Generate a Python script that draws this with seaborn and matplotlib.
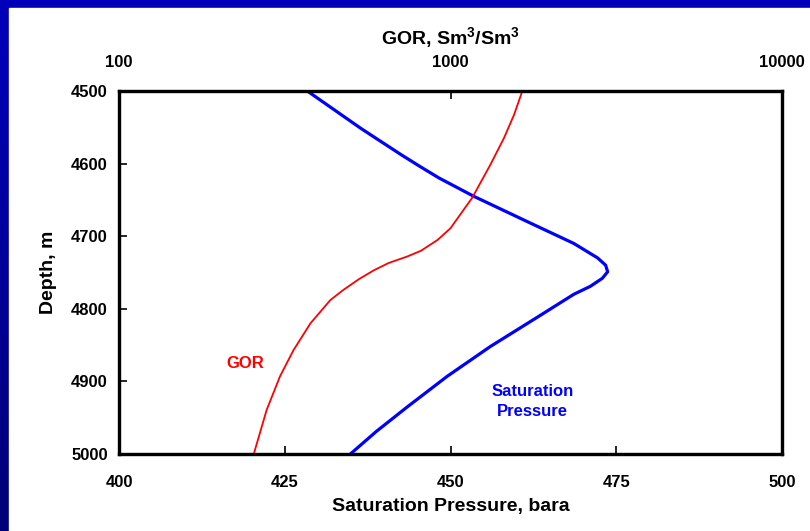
import numpy as np
import matplotlib
matplotlib.use("Agg")
import matplotlib.pyplot as plt
import matplotlib.ticker as mticker
from matplotlib.colors import LinearSegmentedColormap
import seaborn as sns

# Data
psat_depth = [4500, 4551, 4563, 4588, 4604, 4620, 4645, 4680, 4710, 4730, 4740, 4749, 4758, 4769, 4780,
              4811, 4852, 4893, 4935, 4969, 5000]
psat_bara = [428.4, 436.4, 438.4, 442.6, 445.4, 448.3, 453.5, 461.6, 468.6, 472.2, 473.4, 473.7, 472.9, 471.1, 468.6,
             463.2, 456.0, 449.5, 443.5, 438.8, 434.9]

gor_depth = [4500, 4533, 4565, 4601, 4647, 4689, 4705, 4720, 4728, 4737, 4747, 4759, 4774, 4788,
             4820, 4857, 4893, 4939, 5000]
gor_values = [1647, 1554, 1449, 1321, 1163, 1000, 915, 815, 740, 650, 587, 530, 475, 434,
              378, 336, 306, 279, 255]

p_ticks = [400, 425, 450, 475, 500]
d_ticks = [4500, 4600, 4700, 4800, 4900, 5000]
gor_ticks = [100, 1000, 10000]

sns.set_theme(style="white")
plt.rcParams['font.family'] = ['Liberation Sans', 'DejaVu Sans']
plt.rcParams['font.weight'] = 'bold'
plt.rcParams['mathtext.fontset'] = 'custom'
plt.rcParams['mathtext.rm'] = 'Liberation Sans:bold'
plt.rcParams['mathtext.bf'] = 'Liberation Sans:bold'
plt.rcParams['mathtext.it'] = 'Liberation Sans:bold'
plt.rcParams['mathtext.default'] = 'bf'
plt.rcParams['text.color'] = 'black'
plt.rcParams['axes.labelcolor'] = 'black'
plt.rcParams['lines.solid_joinstyle'] = 'round'

W, H = 810, 531
fig = plt.figure(figsize=(W / 100, H / 100), dpi=100)

# background: blue frame with gradient on the left
bg = fig.add_axes([0, 0, 1, 1], zorder=-10)
grad = np.linspace(0, 1, 256).reshape(-1, 1)
cmap = LinearSegmentedColormap.from_list("bg", ["#0000BB", "#000078"])
bg.imshow(grad, aspect='auto', cmap=cmap, extent=[0, 1, 0, 1], origin='upper')
bg.add_patch(plt.Rectangle((9 / W, 0), 1, 1 - 8 / H, color='white', transform=bg.transAxes))
bg.set_xlim(0, 1); bg.set_ylim(0, 1)
bg.axis('off')

left, right, top, bottom = 119, 782, 91, 454
ax = fig.add_axes([left / W, 1 - bottom / H, (right - left) / W, (bottom - top) / H])
ax.set_facecolor('white')

sns.lineplot(x=psat_bara, y=psat_depth, sort=False, estimator=None, color='#0000FF', linewidth=2.3, ax=ax)
ax.set_xlim(400, 500)
ax.set_ylim(5000, 4500)
ax.set_xticks(p_ticks)
ax.set_yticks(d_ticks)
ax.set_xlabel("Saturation Pressure, bara", fontsize=14, fontweight='bold', labelpad=6, color='black')
ax.set_ylabel("Depth, m", fontsize=14, fontweight='bold', labelpad=10, color='black')
ax.tick_params(axis='x', direction='in', length=6, width=1.2, pad=15, labelsize=12, colors='black', bottom=True)
ax.tick_params(axis='y', direction='in', length=6, width=1.2, pad=8, labelsize=12, colors='black', left=True)
for lab in ax.get_xticklabels() + ax.get_yticklabels():
    lab.set_fontweight('bold')

ax2 = ax.twiny()
sns.lineplot(x=gor_values, y=gor_depth, sort=False, estimator=None, color='#FF0000', linewidth=1.3, ax=ax2)
ax2.set_xscale('log')
ax2.set_xlim(100, 10000)
ax2.set_ylim(5000, 4500)
ax2.xaxis.set_major_locator(mticker.FixedLocator(gor_ticks))
ax2.xaxis.set_minor_locator(mticker.NullLocator())
ax2.xaxis.set_major_formatter(mticker.FixedFormatter([str(t) for t in gor_ticks]))
ax2.tick_params(axis='x', which='both', direction='in', length=6, width=1.2, pad=15, labelsize=12, colors='black', top=True)
for lab in ax2.get_xticklabels():
    lab.set_fontweight('bold')
ax2.set_xlabel("GOR, Sm$^3$/Sm$^3$", fontsize=14, fontweight='bold', labelpad=8, color='black')
ax2.xaxis.set_label_position('top')

for a in (ax, ax2):
    for s in a.spines.values():
        s.set_color('black')
        s.set_linewidth(2.3)
        s.set_visible(True)

ax.text(419.0, 4875, "GOR", color='#FF0000', fontsize=12, fontweight='bold', ha='center', va='center')
ax.text(462.4, 4928, "Saturation\nPressure", color='#0000FF', fontsize=12, fontweight='bold',
        ha='center', va='center', linespacing=1.45)

fig.savefig("out.png", dpi=100)
